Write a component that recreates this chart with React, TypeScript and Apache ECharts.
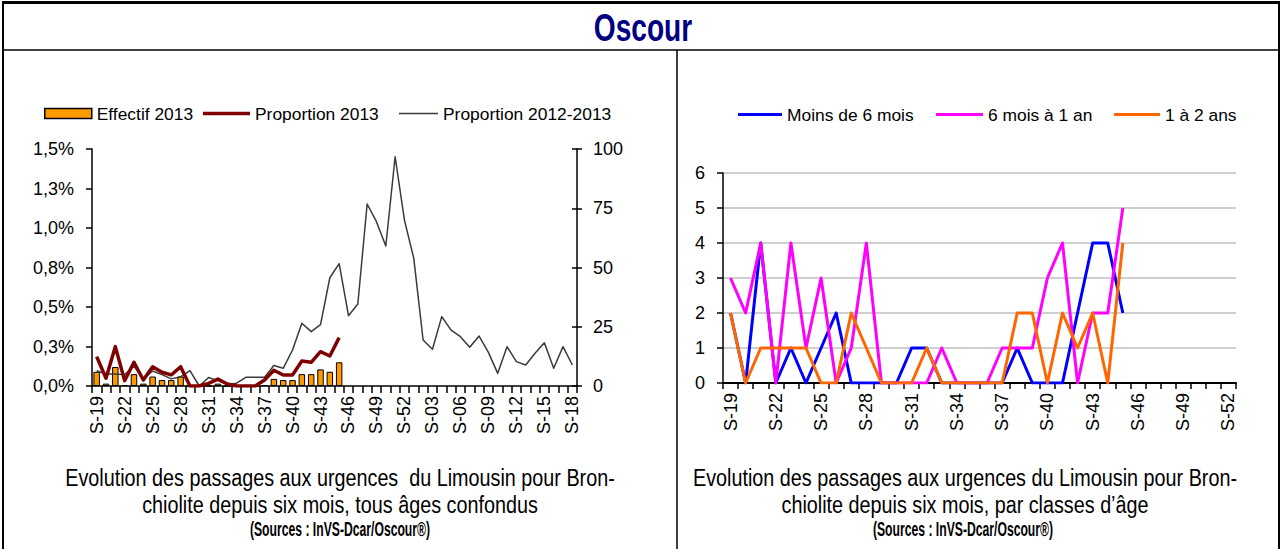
import React, { useEffect, useRef } from "react";
import * as echarts from "echarts";

// ---- Categories ----
const weeksLeft = [
  "S-19", "S-20", "S-21", "S-22", "S-23", "S-24", "S-25", "S-26", "S-27", "S-28",
  "S-29", "S-30", "S-31", "S-32", "S-33", "S-34", "S-35", "S-36", "S-37", "S-38",
  "S-39", "S-40", "S-41", "S-42", "S-43", "S-44", "S-45", "S-46", "S-47", "S-48",
  "S-49", "S-50", "S-51", "S-52", "S-01", "S-02", "S-03", "S-04", "S-05", "S-06",
  "S-07", "S-08", "S-09", "S-10", "S-11", "S-12", "S-13", "S-14", "S-15", "S-16",
  "S-17", "S-18",
];
const weeksRight = [
  "S-19", "S-20", "S-21", "S-22", "S-23", "S-24", "S-25", "S-26", "S-27", "S-28",
  "S-29", "S-30", "S-31", "S-32", "S-33", "S-34", "S-35", "S-36", "S-37", "S-38",
  "S-39", "S-40", "S-41", "S-42", "S-43", "S-44", "S-45", "S-46", "S-47", "S-48",
  "S-49", "S-50", "S-51", "S-52",
];

// ---- Left chart values ----
const effectif2013 = [6, 1, 8, 0.4, 5, 1, 4, 2.5, 2.5, 4, 0, 0, 0, 1, 0, 0, 0, 0, 0.4, 3, 2.5, 2.5, 5, 5, 7, 6, 10];
const proportion2013 = [
  0.186, 0.049, 0.249, 0.034, 0.15, 0.038, 0.122, 0.087, 0.07, 0.122, 0, 0, 0.017, 0.044,
  0.013, 0, 0, 0, 0.038, 0.1, 0.07, 0.07, 0.158, 0.15, 0.217, 0.19, 0.306,
];
const proportion20122013 = [
  0.097, 0.076, 0.076, 0.072, 0.125, 0.045, 0.095, 0.072, 0.045, 0.058, 0.097, 0, 0.054,
  0.034, 0.01, 0.018, 0.055, 0.055, 0.055, 0.13, 0.112, 0.228, 0.397, 0.344, 0.388, 0.685,
  0.774, 0.445, 0.519, 1.152, 1.04, 0.886, 1.451, 1.05, 0.808, 0.291, 0.232, 0.439, 0.354,
  0.312, 0.245, 0.316, 0.213, 0.08, 0.249, 0.154, 0.133, 0.207, 0.274, 0.112, 0.249, 0.133,
];
const leftPctLabels = ["0,0%", "0,3%", "0,5%", "0,8%", "1,0%", "1,3%", "1,5%"];

// ---- Right chart values ----
const moins6mois = [2, 0, 4, 0, 1, 0, 1, 2, 0, 0, 0, 0, 1, 1, 0, 0, 0, 0, 0, 1, 0, 0, 0, 2, 4, 4, 2];
const sixMois1an = [3, 2, 4, 0, 4, 1, 3, 0, 1, 4, 0, 0, 0, 0, 1, 0, 0, 0, 1, 1, 1, 3, 4, 0, 2, 2, 5];
const un2ans = [2, 0, 1, 1, 1, 1, 0, 0, 2, 1, 0, 0, 0, 1, 0, 0, 0, 0, 0, 2, 2, 0, 2, 1, 2, 0, 4];

const FONT = "'Liberation Sans', Arial, sans-serif";

export default function App() {
  const ref = useRef<HTMLDivElement>(null);

  useEffect(() => {
    if (!ref.current) return;
    const chart = echarts.init(ref.current, undefined, { renderer: "svg" });

    const black = { color: "#000", width: 1.5 };
    const axisLabelBase = { color: "#000", fontSize: 18, fontFamily: FONT };
    const legendText = { color: "#000", fontSize: 17.4, fontFamily: FONT };

    const lineLegend = (name: string, left: number, top: number, w: number, h: number) => ({
      data: [{ name, icon: "rect" }],
      left, top, padding: 0, itemWidth: w, itemHeight: h,
      textStyle: legendText, selectedMode: false,
    });

    const option: any = {
      animation: false,
      backgroundColor: "#fff",
      textStyle: { fontFamily: FONT },
      grid: [
        { left: 92, top: 149, width: 485, height: 237 },
        { left: 723, top: 173, width: 513, height: 210 },
      ],
      xAxis: [
        {
          type: "category",
          gridIndex: 0,
          data: weeksLeft,
          boundaryGap: true,
          axisLine: { show: true, lineStyle: black },
          axisTick: { show: true, interval: 0, length: 7, lineStyle: black },
          axisLabel: { ...axisLabelBase, interval: 2, rotate: 90, margin: 10 },
          splitLine: { show: false },
        },
        {
          type: "category",
          gridIndex: 1,
          data: weeksRight,
          boundaryGap: true,
          axisLine: { show: true, lineStyle: { color: "#000", width: 2 } },
          axisTick: { show: true, interval: 0, length: 6, lineStyle: black },
          axisLabel: { ...axisLabelBase, interval: 2, rotate: 90, margin: 10 },
          splitLine: { show: false },
        },
      ],
      yAxis: [
        {
          type: "value",
          gridIndex: 0,
          min: 0,
          max: 1.5,
          interval: 0.25,
          position: "left",
          axisLine: { show: true, lineStyle: black },
          axisTick: { show: true, length: 6, lineStyle: black },
          axisLabel: {
            ...axisLabelBase,
            margin: 18,
            formatter: (v: number) => leftPctLabels[Math.round(v / 0.25)] ?? "",
          },
          splitLine: { show: false },
        },
        {
          type: "value",
          gridIndex: 0,
          min: 0,
          max: 100,
          interval: 25,
          position: "right",
          axisLine: { show: true, lineStyle: black },
          axisTick: { show: true, length: 5, lineStyle: black },
          axisLabel: { ...axisLabelBase, margin: 16 },
          splitLine: { show: false },
        },
        {
          type: "value",
          gridIndex: 1,
          min: 0,
          max: 6,
          interval: 1,
          position: "left",
          axisLine: { show: true, lineStyle: black },
          axisTick: { show: true, length: 6, lineStyle: black },
          axisLabel: { ...axisLabelBase, margin: 18 },
          splitLine: { show: true, lineStyle: { color: "#bfbfbf", width: 1.5 } },
        },
        {
          // inner half of the cross ticks of the right axis
          type: "value",
          gridIndex: 0,
          min: 0,
          max: 100,
          interval: 25,
          position: "right",
          axisLine: { show: false },
          axisTick: { show: true, inside: true, length: 5, lineStyle: black },
          axisLabel: { show: false },
          splitLine: { show: false },
        },
      ],
      legend: [
        {
          data: [{ name: "Effectif 2013", icon: "rect", itemStyle: { borderColor: "#000", borderWidth: 1.5 } }],
          left: 44, top: 105, padding: 0, itemWidth: 47, itemHeight: 10,
          textStyle: legendText, selectedMode: false,
        },
        lineLegend("Proportion 2013", 203, 105, 47, 3.5),
        lineLegend("Proportion 2012-2013", 399, 105, 39, 1.5),
        lineLegend("Moins de 6 mois", 738, 106, 44, 3),
        lineLegend("6 mois à 1 an", 936, 106, 47, 3),
        lineLegend("1 à 2 ans", 1114, 106, 46, 3),
      ],
      series: [
        {
          name: "Effectif 2013",
          type: "bar",
          xAxisIndex: 0,
          yAxisIndex: 1,
          data: effectif2013,
          barWidth: 6.5,
          itemStyle: { color: "#FF9900", borderColor: "#000", borderWidth: 1 },
        },
        {
          name: "Proportion 2012-2013",
          type: "line",
          xAxisIndex: 0,
          yAxisIndex: 0,
          data: proportion20122013,
          symbol: "none",
          lineStyle: { color: "#3a3a3a", width: 1.5, join: "round" },
          itemStyle: { color: "#3a3a3a" },
        },
        {
          name: "Proportion 2013",
          type: "line",
          xAxisIndex: 0,
          yAxisIndex: 0,
          data: proportion2013,
          symbol: "none",
          lineStyle: { color: "#800000", width: 3.5, join: "round" },
          itemStyle: { color: "#800000" },
        },
        {
          name: "Moins de 6 mois",
          type: "line",
          xAxisIndex: 1,
          yAxisIndex: 2,
          data: moins6mois,
          symbol: "none",
          lineStyle: { color: "#0000FF", width: 3, join: "round" },
          itemStyle: { color: "#0000FF" },
        },
        {
          name: "6 mois à 1 an",
          type: "line",
          xAxisIndex: 1,
          yAxisIndex: 2,
          data: sixMois1an,
          symbol: "none",
          lineStyle: { color: "#FF00FF", width: 3, join: "round" },
          itemStyle: { color: "#FF00FF" },
        },
        {
          name: "1 à 2 ans",
          type: "line",
          xAxisIndex: 1,
          yAxisIndex: 2,
          data: un2ans,
          symbol: "none",
          lineStyle: { color: "#FF6600", width: 3, join: "round" },
          itemStyle: { color: "#FF6600" },
        },
      ],
      graphic: [
        {
          type: "rect", silent: true,
          shape: { x: 3, y: 2, width: 1276, height: 620 },
          style: { fill: "none", stroke: "#000", lineWidth: 2 },
        },
        {
          type: "line", silent: true,
          shape: { x1: 2, y1: 2.5, x2: 1280, y2: 2.5 },
          style: { stroke: "#000", lineWidth: 3 },
        },
        {
          type: "line", silent: true,
          shape: { x1: 3, y1: 50, x2: 1279, y2: 50 },
          style: { stroke: "#000", lineWidth: 1.5 },
        },
        {
          type: "line", silent: true,
          shape: { x1: 677, y1: 50, x2: 677, y2: 560 },
          style: { stroke: "#000", lineWidth: 1.5 },
        },
        {
          type: "text", x: 643, y: 28, scaleX: 0.74,
          style: {
            text: "Oscour", fill: "#000080", fontFamily: FONT, fontWeight: "bold", fontSize: 38,
            align: "center", verticalAlign: "middle",
          },
        },
        {
          type: "text", x: 340, y: 478, scaleX: 0.86,
          style: {
            text: "Evolution des passages aux urgences  du Limousin pour Bron-", fill: "#000",
            fontFamily: FONT, fontSize: 23, align: "center", verticalAlign: "middle",
          },
        },
        {
          type: "text", x: 340, y: 505, scaleX: 0.86,
          style: {
            text: "chiolite depuis six mois, tous âges confondus", fill: "#000",
            fontFamily: FONT, fontSize: 23, align: "center", verticalAlign: "middle",
          },
        },
        {
          type: "text", x: 340, y: 529, scaleX: 0.58,
          style: {
            text: "(Sources : InVS-Dcar/Oscour®)", fill: "#000",
            fontFamily: FONT, fontWeight: "bold", fontSize: 21, align: "center", verticalAlign: "middle",
          },
        },
        {
          type: "text", x: 965, y: 478, scaleX: 0.86,
          style: {
            text: "Evolution des passages aux urgences du Limousin pour Bron-", fill: "#000",
            fontFamily: FONT, fontSize: 23, align: "center", verticalAlign: "middle",
          },
        },
        {
          type: "text", x: 965, y: 505, scaleX: 0.86,
          style: {
            text: "chiolite depuis six mois, par classes d’âge", fill: "#000",
            fontFamily: FONT, fontSize: 23, align: "center", verticalAlign: "middle",
          },
        },
        {
          type: "text", x: 963, y: 529, scaleX: 0.58,
          style: {
            text: "(Sources : InVS-Dcar/Oscour®)", fill: "#000",
            fontFamily: FONT, fontWeight: "bold", fontSize: 21, align: "center", verticalAlign: "middle",
          },
        },
      ],
    };

    chart.setOption(option);
    return () => chart.dispose();
  }, []);

  return (
    <div
      ref={ref}
      style={{ position: "absolute", left: 0, top: 0, width: 1282, height: 549, background: "#fff" }}
    />
  );
}
